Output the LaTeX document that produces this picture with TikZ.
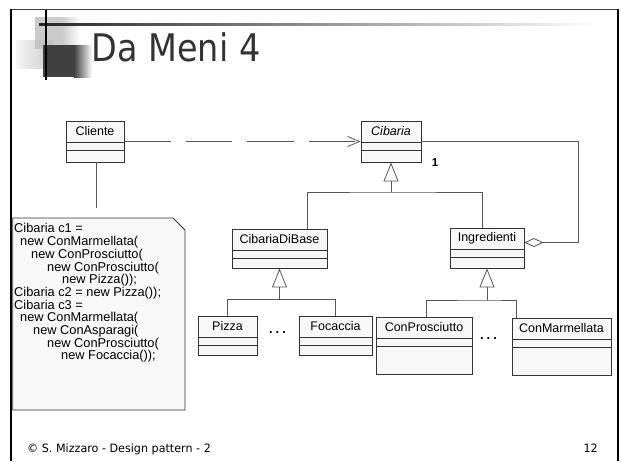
\documentclass[tikz,border=0pt]{standalone}
\usepackage{fontspec}
\setmainfont{Liberation Sans}
\newfontfamily\titlefont[FakeStretch=0.88]{DejaVu Sans}
\newfontfamily\footfont[FakeStretch=0.97]{DejaVu Sans}
\usetikzlibrary{arrows.meta,calc,fit}

\definecolor{boxline}{HTML}{333333}
\definecolor{boxfill}{HTML}{F8F8F8}
\definecolor{connline}{HTML}{555555}
\definecolor{titlegray}{HTML}{333333}
\definecolor{decolight}{HTML}{C2C2C2}
\definecolor{decodark}{HTML}{404040}

% class box: name compartment plus two empty compartments
\newcommand\umlclass[6]{%
  \node[cls, fit={(#2,#3) (#4,#5)}] (#1) {};
  \node[clsname] (#1-name) at ($(#1.north)+(0,10.5)$) {#6};
}

\begin{document}
\begin{tikzpicture}[x=1pt,y=-1pt,
  cls/.style={draw=boxline, fill=boxfill, line width=0.9pt, inner sep=0pt,
    path picture={\draw[boxline, line width=0.8pt]
      ([yshift=-21pt]path picture bounding box.north west) -- ([yshift=-21pt]path picture bounding box.north east)
      ([yshift=-29pt]path picture bounding box.north west) -- ([yshift=-29pt]path picture bounding box.north east);}},
  clsname/.style={font=\fontsize{12.5}{14}\selectfont, inner sep=0pt},
  conn/.style={draw=connline, line width=0.8pt},
  inh/.style={conn, -{Triangle[open, length=19pt, width=15pt]}},
  dotsmark/.style={font=\bfseries\fontsize{13}{14}\selectfont, inner sep=0pt},
]
\useasboundingbox (0,0) rectangle (621,461);
\fill[white] (0,0) rectangle (621,461);

% slide frame
\draw[line width=1.3pt, black!75] (10.5,9.5) -- (618,9.5);
\draw[line width=2pt] (11,9) -- (11,461);
\draw[line width=2pt] (617.5,9) -- (617.5,461);

% title ornament
\shade[left color=gray!8, right color=gray!40] (16,40) rectangle (53,68);
\fill[decolight, opacity=0.85] (35,17) rectangle (62,49);
\shade[left color=decolight, right color=white, opacity=0.85] (62,17) rectangle (80,49);
\fill[decodark] (43,45) rectangle (74,77);
\shade[left color=decodark, right color=white] (74,45) rectangle (92,77);
\shade[left color=black!85, right color=white] (39,23.2) rectangle (598,25);
\draw[line width=1.6pt] (45.7,10) -- (45.7,80);

% title
\node[anchor=base west, inner sep=0pt, text=titlegray,
      font=\titlefont\fontsize{38}{40}\selectfont] (title) at (91.5,61) {Da Meni 4};

% classes
\umlclass{cliente}{66}{121}{124}{162}{Cliente}
\umlclass{cibaria}{361}{121}{421}{162}{\textit{Cibaria}}
\umlclass{cdb}{232}{229}{327}{268}{CibariaDiBase}
\umlclass{ingr}{450}{228}{524}{268}{Ingredienti}
\umlclass{pizza}{198}{316}{257}{355}{Pizza}
\umlclass{focaccia}{299}{316}{372}{355}{Focaccia}
\umlclass{conpro}{376}{317}{472}{374}{ConProsciutto}
\umlclass{conmar}{512}{318}{611}{375}{ConMarmellata}

% dependency Cliente -> Cibaria
\draw[conn, dash pattern=on 46.5pt off 15pt,
      -{Straight Barb[length=12pt, width=10pt]}] (cliente.east) -- (cibaria.west);

% aggregation Ingredienti <>-- Cibaria
\coordinate (aggcorner) at (578,141.5);
\draw[conn, -{Diamond[open, length=19pt, width=9pt]}]
  (cibaria.east) -- (aggcorner) |- ($(ingr.north east)+(0,15)$);
\node[font=\bfseries\fontsize{11.5}{12}\selectfont, inner sep=0pt] (mult) at (435,163) {1};

% generalisations
\coordinate (j1) at (391,192);
\draw[inh] (j1) -- (cibaria.south);
\draw[conn] ([xshift=27.5pt]cdb.north) |- (j1) -| ([xshift=-4.3pt]ingr.north);

\coordinate (j2) at (279.5,299.5);
\draw[inh] (j2) -- (cdb.south);
\draw[conn] (pizza.north) |- (j2) -| (focaccia.north);

\coordinate (j3) at (487,300);
\draw[inh] (j3) -- (ingr.south);
\draw[conn] ([xshift=2pt]conpro.north) |- (j3) -| ([xshift=5pt]conmar.north west);

\node[dotsmark] (dots1) at (277.5,333) {.\hspace{3pt}.\hspace{3pt}.};
\node[dotsmark] (dots2) at (488.5,339) {.\hspace{3pt}.\hspace{3pt}.};

% note with client code
\draw[draw=boxline, fill=boxfill, line width=0.9pt]
  (12.7,218) -- (173,218) -- (185,230) -- (185,410) -- (12.7,410) -- cycle;
\node[anchor=north west, align=left, inner sep=0pt,
      font=\fontsize{12.8}{12.7}\selectfont] (note) at (14,223.5) {%
Cibaria c1 =\\
\hspace*{6pt}new ConMarmellata(\\
\hspace*{17pt}new ConProsciutto(\\
\hspace*{33pt}new ConProsciutto(\\
\hspace*{48pt}new Pizza());\\
Cibaria c2 = new Pizza());\\
Cibaria c3 =\\
\hspace*{6pt}new ConMarmellata(\\
\hspace*{19pt}new ConAsparagi(\\
\hspace*{33pt}new ConProsciutto(\\
\hspace*{47pt}new Focaccia());};
\coordinate (noteend) at (96.5,207.5);
\draw[conn] (cliente.south -| noteend) -- (noteend);

% footer
\node[anchor=base west, inner sep=0pt, font=\footfont\fontsize{11.5}{13}\selectfont]
  (footer) at (27,452) {© S. Mizzaro - Design pattern - 2};
\node[anchor=base east, inner sep=0pt, font=\footfont\fontsize{11.5}{13}\selectfont]
  (pageno) at (598,452) {12};
\end{tikzpicture}
\end{document}
